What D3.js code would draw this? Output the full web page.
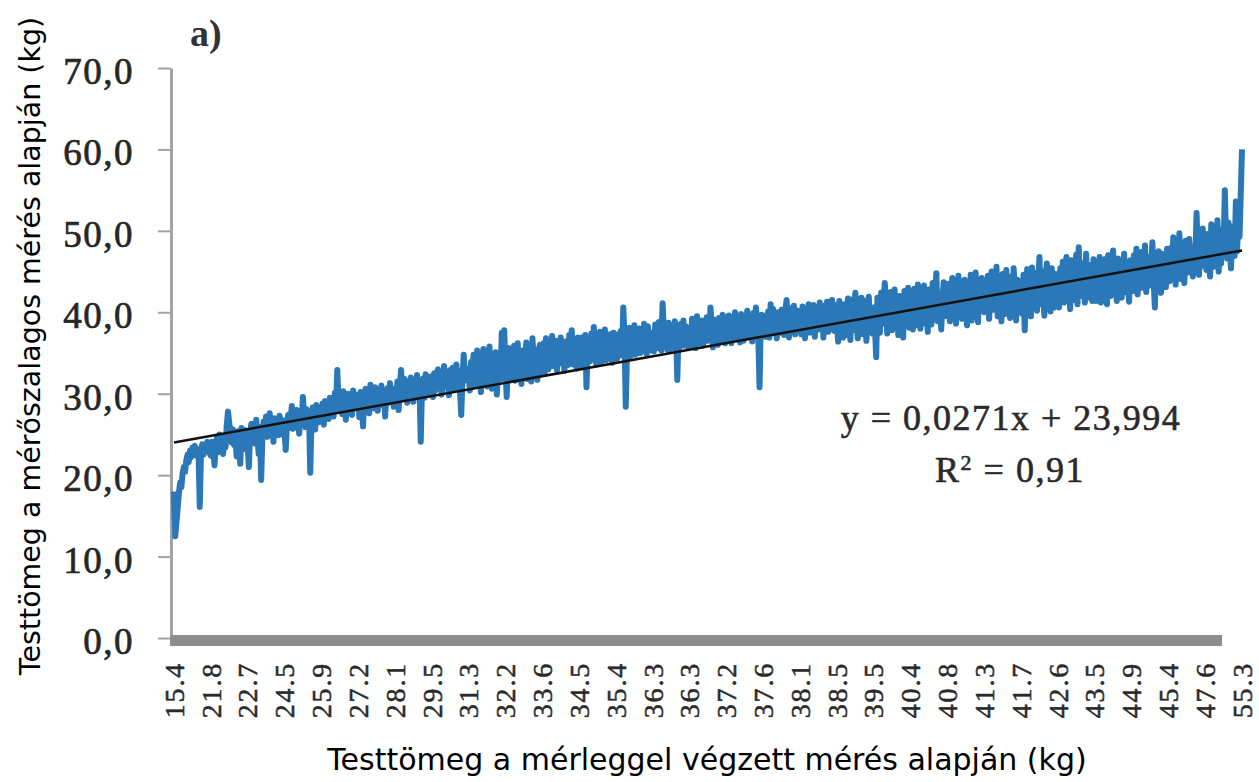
<!DOCTYPE html>
<html lang="hu">
    <head>
        <meta charset="utf-8">
        <title>Testtömeg összehasonlítás</title>
        <script type="text/javascript" src="https://d3js.org/d3.v7.min.js"></script>
        <style>
            body { margin: 0; background: #fff; }
            #chart .ylab text { font-family: "Liberation Serif", serif; font-size: 37px; fill: #262626; stroke: #262626; stroke-width: 0.7px; letter-spacing: 1.5px; }
            #chart .xlab text { font-family: "Liberation Serif", serif; font-size: 28px; fill: #2a2a2a; stroke: #2a2a2a; stroke-width: 0.5px; letter-spacing: 1.8px; }
            #chart .note { font-family: "Liberation Serif", serif; font-size: 36px; fill: #2a2a2a; stroke: #2a2a2a; stroke-width: 0.6px; letter-spacing: 1.5px; }
            #chart .title { font-family: "DejaVu Sans", sans-serif; font-size: 30px; fill: #000; }
        </style>
    </head>
    <body>
        <svg id="chart"></svg>
    </body>
    <script>
        // x category labels (every 30th weighing, kg)
        let weightLabels = ["15.4","21.8","22.7","24.5","25.9","27.2","28.1","29.5","31.3","32.2",
                            "33.6","34.5","35.4","36.3","36.3","37.2","37.6","38.1","38.5","39.5",
                            "40.4","40.8","41.3","41.7","42.6","43.5","44.9","45.4","47.6","55.3"];

        // tape measure estimate (kg), animals sorted by scale weight
        let tapeWeights = [
            18.0,12.5,14.2,16.0,17.8,19.1,18.5,20.2,21.0,20.4,21.8,22.5,21.6,23.0,22.2,23.4,22.8,23.6,22.4,23.2,22.6,16.1,23.0,23.8,22.5,23.6,22.9,24.1,23.3,22.7,
            22.4,24.1,23.0,21.2,23.8,24.6,22.8,25.0,23.5,24.2,22.6,24.8,23.4,26.2,27.8,26.4,25.2,24.0,25.6,23.7,24.9,22.3,25.4,24.3,21.4,25.8,24.6,23.2,25.5,24.0,
            23.6,21.0,25.1,26.3,24.2,25.7,23.9,26.8,24.5,22.6,25.9,19.4,24.8,26.6,25.3,27.2,24.7,26.0,27.6,25.2,26.4,24.1,27.0,25.6,26.8,24.9,27.3,26.1,25.0,26.7,
            25.4,23.1,26.5,27.4,25.8,26.9,28.5,25.7,27.1,26.2,28.0,26.6,25.1,27.7,26.3,29.6,27.2,25.9,28.1,26.4,27.5,20.3,26.8,28.3,27.0,25.6,28.6,27.3,26.5,28.2,
            27.0,28.8,26.2,29.1,27.6,28.4,26.9,29.5,27.8,28.9,27.2,30.1,28.3,32.9,29.4,28.0,29.8,27.5,30.3,28.6,26.8,29.2,30.0,28.1,29.6,27.4,30.4,28.7,29.9,28.2,
            29.5,27.1,30.2,28.8,26.0,29.7,30.6,28.4,29.9,27.6,31.1,29.0,30.4,28.2,30.8,29.3,27.9,30.5,29.1,31.0,28.6,30.2,27.2,29.8,30.7,28.9,31.3,29.6,30.1,28.4,
            30.6,29.2,31.5,28.0,30.9,32.9,30.1,29.4,31.8,30.3,28.9,31.2,29.7,32.0,30.5,29.0,31.6,30.2,32.3,29.8,31.0,24.1,30.7,31.9,29.5,32.4,30.8,31.4,29.9,32.1,
            31.0,29.6,32.5,30.4,31.8,33.0,30.7,32.2,29.9,31.5,33.4,30.9,32.6,31.3,29.8,32.9,31.7,33.2,30.5,32.0,33.6,31.1,32.8,30.2,27.4,31.9,34.8,32.4,33.1,31.6,
            32.7,30.4,33.9,31.6,34.8,31.0,33.5,35.3,32.1,34.6,30.2,33.7,35.5,31.5,33.3,30.9,34.4,35.8,32.2,30.6,34.0,32.4,35.1,29.9,33.2,34.7,31.8,37.5,35.2,37.8,
            33.4,29.6,34.0,35.6,31.9,34.6,32.5,35.9,31.6,34.3,36.2,32.1,34.9,31.2,35.3,33.0,34.5,36.3,31.8,35.6,33.2,31.5,36.8,34.0,32.3,35.4,31.7,34.8,36.0,32.6,
            34.1,36.2,32.6,36.8,34.8,33.0,35.9,34.0,37.1,33.4,35.2,36.5,32.9,35.8,33.7,36.9,34.2,35.5,32.8,36.4,35.0,33.5,37.2,35.6,37.8,33.6,36.4,34.6,33.1,36.9,
            35.4,33.4,36.9,35.0,33.8,37.2,30.8,35.6,36.8,34.0,37.4,34.6,38.2,35.8,33.6,36.8,34.9,37.6,33.9,36.3,35.2,37.9,34.1,36.6,34.8,37.3,35.7,33.8,37.5,35.2,
            36.4,34.3,37.3,36.0,37.7,34.7,40.6,36.9,28.4,35.0,36.7,38.1,34.6,37.0,36.2,38.4,34.8,37.6,36.5,38.0,35.0,37.2,36.3,38.6,37.0,34.9,38.3,36.8,37.5,35.3,
            37.1,35.2,38.5,37.4,35.6,38.8,37.0,35.3,41.1,38.2,36.0,37.9,35.4,38.7,37.3,35.5,38.0,36.1,38.9,37.5,31.7,37.8,35.7,38.6,37.2,39.0,35.9,38.3,37.6,35.8,
            38.1,35.8,39.2,37.0,38.4,35.6,39.5,37.4,38.7,36.2,39.0,35.9,38.2,37.7,39.4,36.5,37.3,40.6,38.5,35.7,39.1,37.0,38.9,36.0,39.3,38.3,36.4,39.7,38.6,36.2,
            38.8,36.6,39.6,37.4,36.2,39.2,38.0,40.0,36.7,39.4,37.5,36.3,39.8,38.4,36.5,39.0,37.7,40.2,36.9,39.5,38.3,36.4,39.9,37.6,40.6,39.1,36.8,30.8,38.9,39.7,
            38.0,39.5,37.0,38.4,40.1,36.9,41.0,38.2,40.4,37.4,39.8,36.8,40.0,38.6,37.5,40.3,39.0,37.2,40.3,41.5,38.7,36.9,40.5,38.4,37.6,40.8,37.3,39.6,40.2,38.1,
            39.5,37.3,40.7,38.1,36.8,40.3,38.8,41.0,37.5,40.0,38.3,40.9,37.0,39.4,40.6,37.9,41.2,38.6,40.1,36.9,40.8,38.4,41.3,37.6,40.4,38.0,41.5,39.2,37.7,40.9,
            39.2,36.4,41.4,38.0,40.3,36.9,41.0,39.5,37.2,41.7,38.5,36.6,40.9,41.6,37.8,42.4,39.6,36.8,41.2,38.1,41.8,37.3,40.8,41.4,36.5,39.9,41.9,38.2,40.0,37.4,
            40.6,38.2,34.5,41.8,39.2,37.5,42.4,38.6,40.8,43.6,41.6,37.4,41.1,39.0,42.5,37.8,40.7,42.8,38.3,41.3,37.2,42.0,39.4,40.9,36.9,42.6,39.0,40.6,43.0,38.1,
            39.8,42.5,37.9,42.9,40.3,38.4,43.4,40.7,38.0,42.2,39.6,43.3,38.6,41.2,37.6,42.8,40.6,38.5,43.6,40.9,41.6,44.8,38.9,42.3,40.4,37.9,41.8,43.7,39.5,42.1,
            40.8,43.5,38.9,42.3,44.2,39.6,42.8,38.6,41.6,44.5,40.0,43.4,39.2,41.3,44.0,40.2,38.4,43.1,41.0,44.6,39.0,42.5,40.1,44.9,41.5,38.8,43.3,40.4,44.2,41.2,
            40.0,43.6,41.2,44.5,39.2,42.1,45.0,40.3,43.2,41.4,45.6,39.5,43.8,41.8,38.9,44.7,42.3,39.8,45.2,41.6,43.6,39.3,44.4,41.1,45.4,42.0,39.0,44.0,41.9,43.5,
            42.2,39.8,44.6,37.8,42.6,45.3,40.4,43.9,39.5,45.5,42.0,40.7,44.8,40.2,43.4,46.8,41.0,45.0,42.4,39.6,44.4,46.0,41.3,43.8,40.1,45.4,43.0,40.6,44.7,42.1,
            43.4,40.6,45.4,42.1,46.2,41.2,44.3,46.8,41.8,45.0,40.4,46.4,43.1,41.5,45.6,47.1,41.0,48.0,43.6,42.0,46.0,44.5,41.2,47.2,43.3,45.8,41.8,45.2,41.4,46.5,
            44.1,41.4,46.0,43.0,46.8,41.2,44.7,42.4,46.5,43.5,41.0,47.0,44.3,42.0,45.6,47.6,42.6,45.2,41.4,46.6,43.7,46.0,41.8,44.6,47.2,42.5,45.8,43.9,41.3,46.4,
            45.0,42.6,47.0,44.2,47.8,42.2,45.8,43.6,47.4,43.0,45.3,48.2,42.5,44.8,46.8,43.3,45.6,48.6,44.0,40.6,46.5,43.4,47.5,45.1,42.4,47.2,44.0,46.3,43.1,47.8,
            45.6,43.8,47.9,44.7,49.2,46.1,43.4,48.4,45.3,49.7,44.1,47.2,45.9,43.6,48.8,46.4,44.9,49.0,45.1,47.7,44.4,48.1,46.8,52.2,47.0,44.6,48.6,45.7,50.3,46.5,
            47.8,45.2,49.6,46.3,44.4,50.8,47.1,45.6,49.9,46.8,51.3,45.0,48.5,46.0,50.2,47.4,55.0,48.9,46.6,51.0,47.9,45.4,50.5,48.2,46.9,53.6,47.5,51.8,49.3,54.7,
            60.0
        ];

        let yTicks = [0, 10, 20, 30, 40, 50, 60, 70];
        let labelStep = 30;

        // linear trendline shown on the chart
        let trendSlope = 0.0271;
        let trendIntercept = 23.994;
        let equationText = "y = 0,0271x + 23,994";
        let r2Text = "0,91";

        let width = 1259, height = 782;
        let svg = d3.select("#chart").attr("width", width).attr("height", height);

        let x = d3.scaleLinear()
            .domain([1, tapeWeights.length])
            .range([174, 1242]);
        let y = d3.scaleLinear()
            .domain([0, 70])
            .range([638, 68]);

        let comma = d => d3.format(".1f")(d).replace(".", ",");

        // y axis
        let yAxis = svg.append("g")
            .attr("class", "ylab")
            .attr("transform", "translate(171,0)")
            .call(d3.axisLeft(y).tickValues(yTicks).tickSize(13).tickSizeOuter(0).tickPadding(24).tickFormat(comma));
        yAxis.select(".domain").attr("stroke", "#a3a3a3").attr("stroke-width", 3);
        yAxis.selectAll(".tick line").attr("stroke", "#a3a3a3").attr("stroke-width", 2);
        yAxis.selectAll(".tick text").attr("dy", "0.42em");

        // thick grey category axis bar
        svg.append("rect")
            .attr("x", 170)
            .attr("y", y(0) - 3)
            .attr("width", 1222 - 170)
            .attr("height", 11)
            .attr("fill", "#8d8d8d");

        // x labels, rotated
        let xAxis = svg.append("g")
            .attr("class", "xlab")
            .attr("transform", "translate(0,648)")
            .call(d3.axisBottom(x)
                .tickValues(weightLabels.map((d, i) => 1 + i * labelStep))
                .tickFormat((d, i) => weightLabels[i])
                .tickSize(0));
        xAxis.select(".domain").remove();
        xAxis.selectAll(".tick text")
            .attr("transform", "rotate(-90)")
            .attr("x", -14)
            .attr("y", 0)
            .attr("dy", "0.33em")
            .style("text-anchor", "end");

        // data line
        let line = d3.line()
            .x((d, i) => x(i + 1))
            .y(d => y(d));
        svg.append("path")
            .datum(tapeWeights)
            .attr("fill", "none")
            .attr("stroke", "#2a78b8")
            .attr("stroke-width", 6)
            .attr("stroke-linejoin", "round")
            .attr("d", line);

        // trendline
        let ends = [1, tapeWeights.length];
        svg.append("path")
            .datum(ends)
            .attr("fill", "none")
            .attr("stroke", "#111")
            .attr("stroke-width", 2.5)
            .attr("d", d3.line().x(d => x(d)).y(d => y(trendSlope * d + trendIntercept)));

        // equation
        svg.append("text").attr("class", "note")
            .attr("x", 1011).attr("y", 430)
            .attr("text-anchor", "middle")
            .text(equationText);
        let r2 = svg.append("text").attr("class", "note")
            .attr("x", 1010).attr("y", 482)
            .attr("text-anchor", "middle");
        r2.append("tspan").text("R");
        r2.append("tspan").attr("dy", -12).style("font-size", "22px").text("2");
        r2.append("tspan").attr("dy", 12).text(" = " + r2Text);

        // panel letter
        svg.append("text")
            .attr("x", 190).attr("y", 46)
            .style("font-family", "Liberation Serif, serif")
            .style("font-weight", "bold")
            .style("font-size", "38px")
            .style("fill", "#333")
            .text("a)");

        // axis titles
        svg.append("text").attr("class", "title")
            .attr("x", 707).attr("y", 770)
            .attr("text-anchor", "middle")
            .text("Testtömeg a mérleggel végzett mérés alapján (kg)");
        svg.append("text").attr("class", "title")
            .attr("transform", "translate(40,346) rotate(-90)")
            .attr("text-anchor", "middle")
            .style("font-size", "28.5px")
            .text("Testtömeg a mérőszalagos mérés alapján (kg)");
    </script>
</html>
